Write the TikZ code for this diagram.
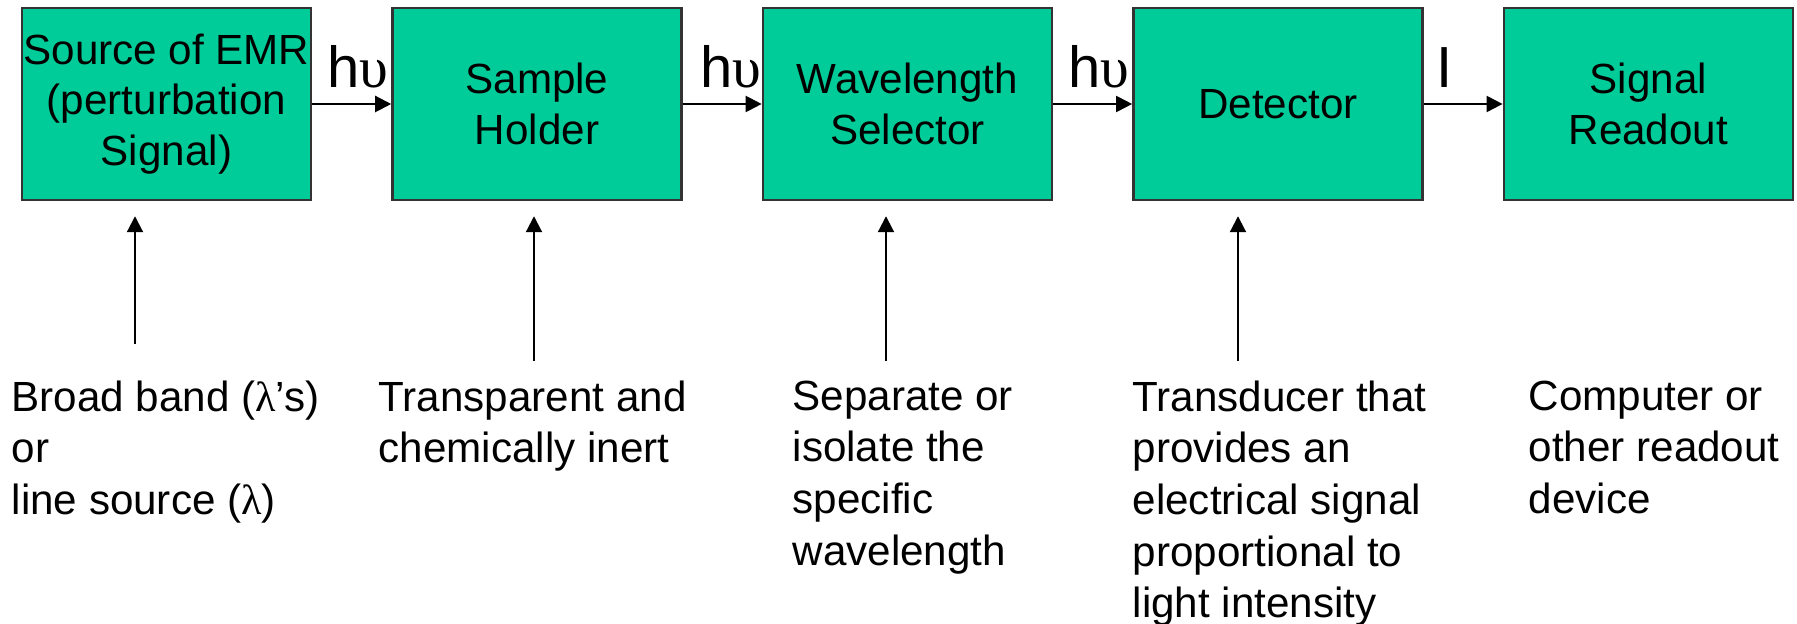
\documentclass[tikz,border=0pt]{standalone}
\usepackage{fontspec}
\setmainfont{Liberation Sans}
\newfontfamily\grfont{Liberation Serif}
\usetikzlibrary{arrows.meta,positioning}
\definecolor{boxgreen}{HTML}{00CC99}

\begin{document}
\begin{tikzpicture}[
    node distance=0.79cm,
    blocknode/.style={draw=black!80, line width=0.7pt, fill=boxgreen, minimum width=2.89cm, minimum height=1.92cm, inner sep=0pt, align=center, font=\fontsize{12}{14.3}\selectfont},
    notenode/.style={anchor=north west, inner sep=0pt, align=left, font=\fontsize{12}{14.7}\selectfont},
    labelnode/.style={anchor=base, yshift=0.16cm, inner sep=0pt, font=\fontsize{16.5}{18}\selectfont},
    flow/.style={line width=0.6pt, -{Triangle[length=0.16cm, width=0.16cm]}}
]
\useasboundingbox (0,0) rectangle (17.97,-6.24);

% Instrument blocks
\node[blocknode] (src) at (1.665,-1.04) {Source of EMR\\(perturbation\\Signal)};
\node[blocknode, right=of src] (holder) {Sample\\Holder};
\node[blocknode, right=of holder] (selector) {Wavelength\\Selector};
\node[blocknode, right=of selector] (detector) {Detector};
\node[blocknode, right=of detector] (readout) {Signal\\Readout};

% Signal path
\draw[flow] (src) -- node[labelnode, pos=0.58] {h{\grfont υ}} (holder);
\draw[flow] (holder) -- node[labelnode, pos=0.61] {h{\grfont υ}} (selector);
\draw[flow] (selector) -- node[labelnode, pos=0.58] {h{\grfont υ}} (detector);
\draw[flow] (detector) -- node[labelnode, pos=0.26] {I} (readout);

% Descriptions
\node[notenode] (srcnote) at (0.11,-3.80) {Broad band ({\grfont λ}’s)\\or\\line source ({\grfont λ})};
\node[notenode] (holdernote) at (3.78,-3.80) {Transparent and\\chemically inert};
\node[notenode] (selectornote) at (7.92,-3.80) {Separate or\\isolate the\\specific\\wavelength};
\node[notenode] (detectornote) at (11.32,-3.80) {Transducer that\\provides an\\electrical signal\\proportional to\\light intensity};
\node[notenode] (readoutnote) at (15.28,-3.80) {Computer or\\other readout\\device};

% Pointers up to the blocks
\coordinate (srctail) at (1.35,-3.44);
\coordinate (holdertail) at (5.34,-3.61);
\coordinate (selectortail) at (8.86,-3.61);
\coordinate (detectortail) at (12.38,-3.61);
\foreach \t/\b in {srctail/src, holdertail/holder, selectortail/selector, detectortail/detector}
    \draw[flow, shorten >=0.15cm] (\t) -- (\t |- \b.south);

\end{tikzpicture}
\end{document}
